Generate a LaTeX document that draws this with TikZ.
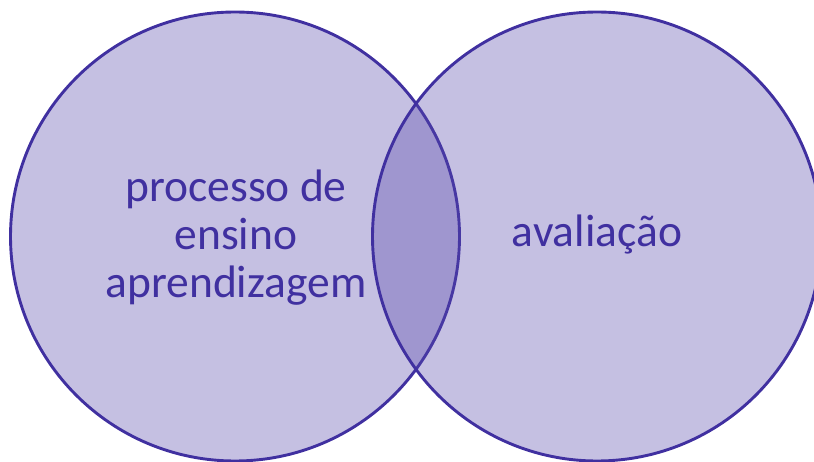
\documentclass[tikz,border=0pt]{standalone}
\usepackage{fontspec}
\setmainfont{Carlito}
\definecolor{vfill}{RGB}{87,72,171}
\definecolor{vline}{RGB}{64,48,160}
\definecolor{vtext}{RGB}{64,48,160}
\begin{document}
\begin{tikzpicture}[x=1pt,y=-1pt,
  setcircle/.style={circle,draw=vline,line width=2.9pt,fill=vfill,fill opacity=0.345,minimum size=449pt,inner sep=0pt},
  settext/.style={text=vtext,font=\fontsize{45.5}{48}\selectfont,align=center,anchor=base}]
\useasboundingbox (0,0) rectangle (814,462);
\node[setcircle] (left) at (235,236.5) {};
\node[setcircle] (right) at (597,236.5) {};
\node[settext] (ltext) at (236,298) {processo de\\ensino\\aprendizagem};
\node[settext] (rtext) at (597,247) {avaliação};
\end{tikzpicture}
\end{document}
